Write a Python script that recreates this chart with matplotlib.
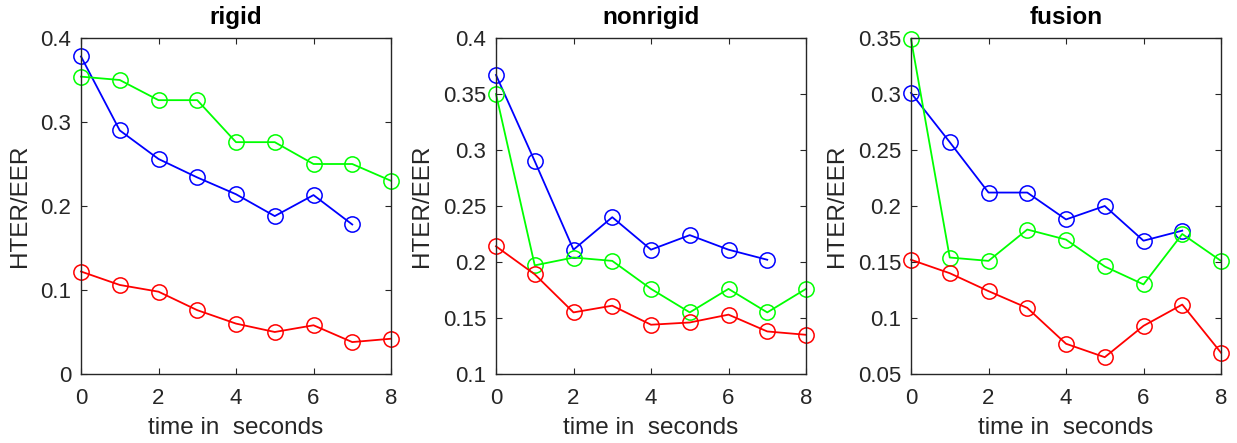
import matplotlib
matplotlib.use('Agg')
import matplotlib.pyplot as plt
import matplotlib.ticker as ticker
import numpy as np

plt.rcParams['font.family'] = ['Liberation Sans', 'DejaVu Sans']

titles = ['rigid', 'nonrigid', 'fusion']

# blue series (stops at t=7)
t_blue = [0, 1, 2, 3, 4, 5, 6, 7]
blue_rigid = [0.378, 0.290, 0.256, 0.234, 0.214, 0.188, 0.213, 0.178]
blue_nonrigid = [0.367, 0.290, 0.211, 0.240, 0.211, 0.224, 0.211, 0.202]
blue_fusion = [0.301, 0.257, 0.212, 0.212, 0.188, 0.200, 0.169, 0.178]

# green and red series (t=0..8)
t_full = [0, 1, 2, 3, 4, 5, 6, 7, 8]
green_rigid = [0.354, 0.350, 0.326, 0.326, 0.276, 0.276, 0.250, 0.250, 0.230]
green_nonrigid = [0.350, 0.197, 0.204, 0.201, 0.176, 0.155, 0.176, 0.155, 0.176]
green_fusion = [0.349, 0.154, 0.151, 0.179, 0.170, 0.146, 0.130, 0.175, 0.151]

red_rigid = [0.122, 0.106, 0.098, 0.076, 0.060, 0.050, 0.058, 0.038, 0.042]
red_nonrigid = [0.214, 0.189, 0.155, 0.161, 0.144, 0.146, 0.153, 0.138, 0.135]
red_fusion = [0.152, 0.140, 0.124, 0.109, 0.077, 0.065, 0.093, 0.112, 0.069]

blues = [blue_rigid, blue_nonrigid, blue_fusion]
greens = [green_rigid, green_nonrigid, green_fusion]
reds = [red_rigid, red_nonrigid, red_fusion]

ylims = [(0, 0.4), (0.1, 0.4), (0.05, 0.35)]
ysteps = [0.1, 0.05, 0.05]

W, H = 1237, 443
fig = plt.figure(figsize=(W / 100, H / 100), dpi=100)
lefts = [81, 496, 911]
ax_w, ax_bottom, ax_top = 310, 374, 38

axis_col = (0.15, 0.15, 0.15)

for i in range(3):
    ax = fig.add_axes([lefts[i] / W, (H - ax_bottom) / H, ax_w / W, (ax_bottom - ax_top) / H])
    style = dict(marker='o', markersize=11, markerfacecolor='none',
                 markeredgewidth=1.1, linewidth=1.3, clip_on=False)
    ax.plot(t_blue, blues[i], color=(0, 0, 1), **style)
    ax.plot(t_full, greens[i], color=(0, 1, 0), **style)
    ax.plot(t_full, reds[i], color=(1, 0, 0), **style)

    ax.set_xlim(0, 8)
    ax.set_ylim(*ylims[i])
    ax.set_xticks([0, 2, 4, 6, 8])
    lo, hi = ylims[i]
    ax.set_yticks(np.arange(lo, hi + 1e-9, ysteps[i]))
    ax.yaxis.set_major_formatter(ticker.FuncFormatter(lambda v, p: '%g' % round(v, 3)))

    ax.tick_params(direction='in', top=True, right=True, length=4, width=0.8,
                   labelsize=16, colors=axis_col, pad=7)
    ax.tick_params(axis='x', pad=10)
    for s in ax.spines.values():
        s.set_color(axis_col)
        s.set_linewidth(1.0)

    ax.set_title(titles[i], fontsize=17.5, fontweight='bold', pad=10)
    ax.set_xlabel('time in  seconds', fontsize=17.5, color=axis_col, labelpad=6)
    ax.set_ylabel('HTER/EER', fontsize=17.5, color=axis_col, labelpad=7)

fig.savefig('out.png', dpi=100)
